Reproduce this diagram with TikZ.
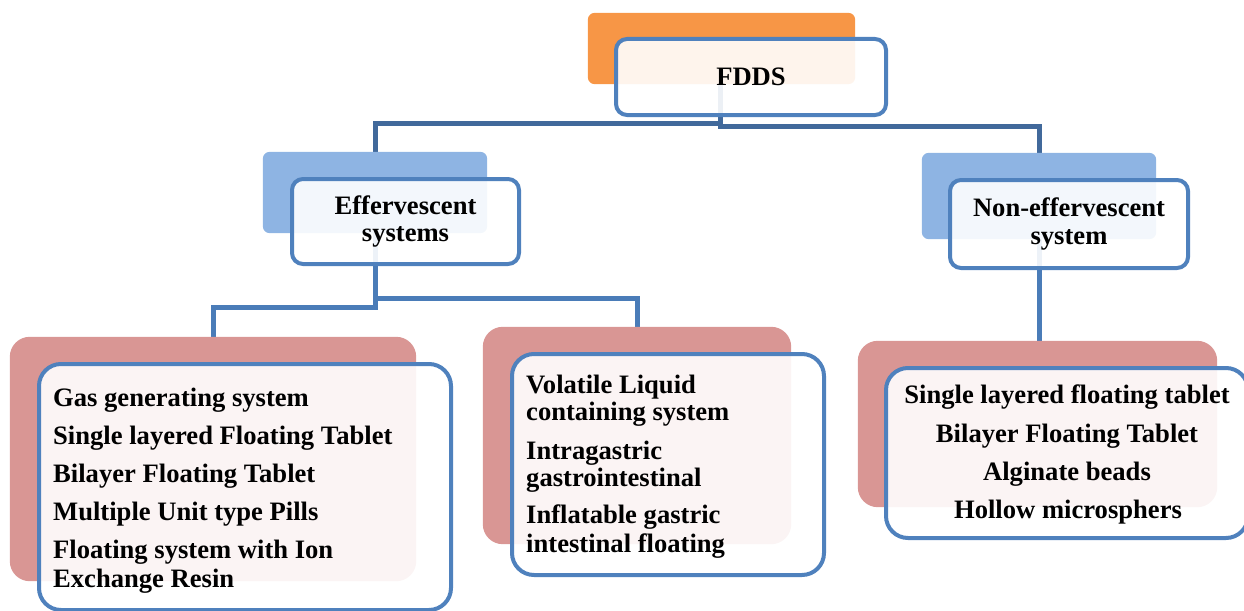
\documentclass[tikz,border=0pt]{standalone}
\usepackage{fontspec}
\setmainfont{Liberation Serif}
\definecolor{borderblue}{HTML}{4F81BD}
\definecolor{conndark}{HTML}{41699B}
\definecolor{connblue}{HTML}{4A7CB8}
\definecolor{backorange}{HTML}{F79646}
\definecolor{backblue}{HTML}{8EB4E3}
\definecolor{backred}{HTML}{D99694}
\begin{document}
\begin{tikzpicture}[x=1pt,y=-1pt,
  bigfont/.style={font=\fontsize{26.6}{27.5}\selectfont\bfseries},
  backbox/.style={rectangle,inner sep=0pt,rounded corners=7pt},
  backbig/.style={rectangle,inner sep=0pt,rounded corners=20pt},
  frontbox/.style={rectangle,inner sep=0pt,fill=white,fill opacity=0.9,text opacity=1,
     draw=borderblue,draw opacity=1,line width=4pt,rounded corners=11pt,bigfont,align=center},
  frontbig/.style={frontbox,rounded corners=22pt},
  linetext/.style={bigfont,inner sep=0pt,anchor=base west},
  ctext/.style={bigfont,inner sep=0pt,anchor=base},
  conntop/.style={draw=conndark,line width=5pt},
  connlow/.style={draw=connblue,line width=5pt}]
\useasboundingbox (0,0) rectangle (1244,610);
\clip (0,0) rectangle (1244,610);

% junction coordinates
\coordinate (fj) at (720,123);
\coordinate (fj2) at (720,126);
\coordinate (ej) at (375,307);
\coordinate (ej2) at (375,298);

% back boxes (positions only, filled later)
\path (721.5,48.5) node[backbox,minimum width=267pt,minimum height=71pt] (fddsB) {};
\path (375,192.5) node[backbox,minimum width=224pt,minimum height=81pt] (effB) {};
\path (1039,196) node[backbox,minimum width=234pt,minimum height=86pt] (neB) {};
\path (213,459) node[backbig,minimum width=406pt,minimum height=244pt] (blB) {};
\path (637,435.5) node[backbig,minimum width=308pt,minimum height=217pt] (mB) {};
\path (1037.5,424) node[backbig,minimum width=359pt,minimum height=166pt] (rB) {};

% connectors
\draw[conntop] ([xshift=-1.5pt]fddsB.center) -- (fj) -| (effB.center);
\draw[conntop] (fj) -- (fj2) -| (neB.center);
\draw[connlow] (effB.center) -- (ej) -| (blB.center);
\draw[connlow] (ej2) -| (mB.center);
\draw[connlow] (neB.center) -- (neB.center |- rB.center);

% back box fills
\fill[backorange,rounded corners=7pt] (fddsB.north west) rectangle (fddsB.south east);
\fill[backblue,rounded corners=7pt] (effB.north west) rectangle (effB.south east);
\fill[backblue,rounded corners=7pt] (neB.north west) rectangle (neB.south east);
\fill[backred,rounded corners=20pt] (blB.north west) rectangle (blB.south east);
\fill[backred,rounded corners=20pt] (mB.north west) rectangle (mB.south east);
\fill[backred,rounded corners=20pt] (rB.north west) rectangle (rB.south east);

% front boxes
\node[frontbox,minimum width=270pt,minimum height=76pt] (fddsF) at (751,77) {FDDS};
\node[frontbox,minimum width=227pt,minimum height=85pt] (effF) at (405.5,221.5) {Effervescent\\systems};
\node[frontbox,minimum width=238pt,minimum height=88pt] (neF) at (1069,224) {Non-effervescent\\system};
\node[frontbig,minimum width=412pt,minimum height=246pt] (blF) at (245,487) {};
\node[frontbig,minimum width=312pt,minimum height=221pt] (mF) at (668,464.5) {};
\node[frontbig,minimum width=362pt,minimum height=170pt] (rF) at (1067,453) {};

% left box text
\node[linetext] (l1) at (53,406) {Gas generating system};
\node[linetext] (l2) at (53,444) {Single layered Floating Tablet};
\node[linetext] (l3) at (53,482) {Bilayer Floating Tablet};
\node[linetext] (l4) at (53,520) {Multiple Unit type Pills};
\node[linetext] (l5) at (53,558) {Floating system with Ion};
\node[linetext] (l6) at (53,587) {Exchange Resin};

% middle box text
\node[linetext] (m1) at (526,393) {Volatile Liquid};
\node[linetext] (m2) at (526,420) {containing system};
\node[linetext] (m3) at (526,459) {Intragastric};
\node[linetext] (m4) at (526,486) {gastrointestinal};
\node[linetext] (m5) at (526,523) {Inflatable gastric};
\node[linetext] (m6) at (526,552) {intestinal floating};

% right box text
\node[ctext] (r1) at (1067,403) {Single layered floating tablet};
\node[ctext] (r2) at (1067,442) {Bilayer Floating Tablet};
\node[ctext] (r3) at (1067,480) {Alginate beads};
\node[ctext] (r4) at (1068,518) {Hollow microsphers};
\end{tikzpicture}
\end{document}
